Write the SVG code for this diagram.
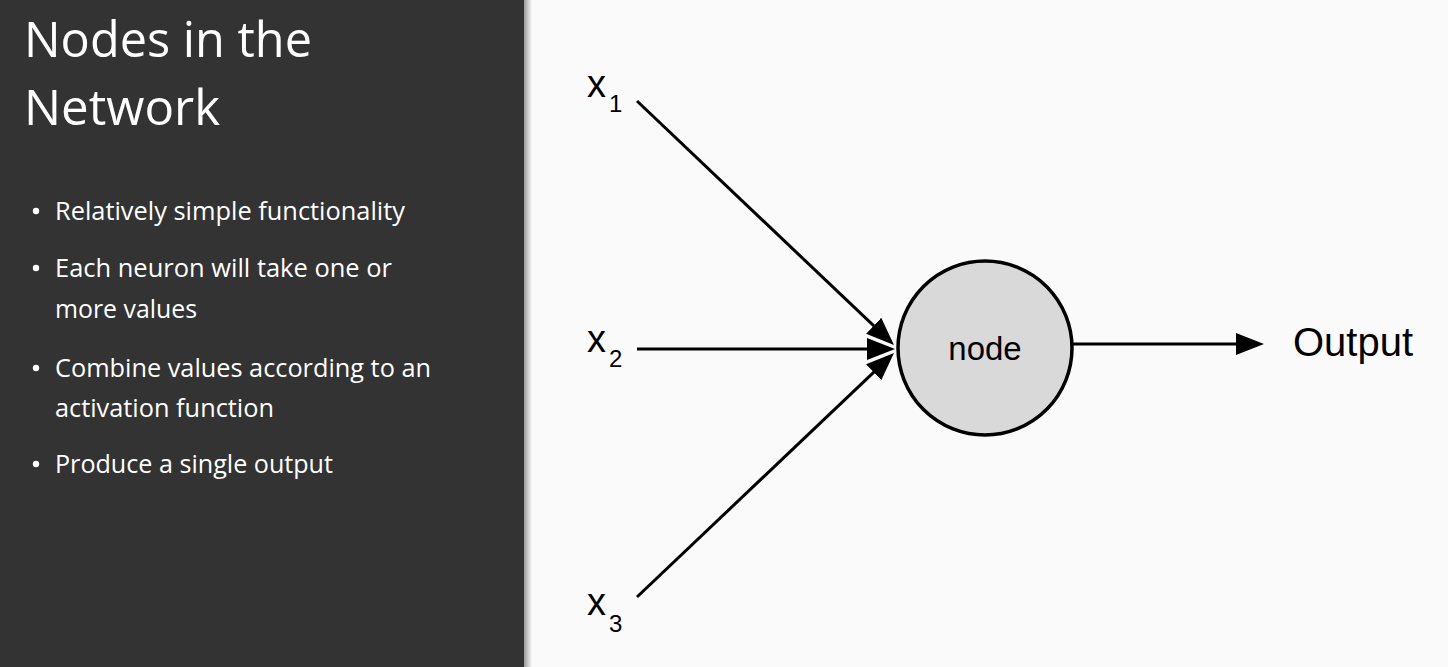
<svg xmlns="http://www.w3.org/2000/svg" width="1448" height="667" viewBox="0 0 1448 667">
  <style>
    .title { font-family: "Open Sans", "Lato", sans-serif; font-size: 49px; fill: #ffffff; }
    .bullet { font-family: "Open Sans", "Lato", sans-serif; font-size: 25px; fill: #ffffff; }
    .dot { fill: #ffffff; }
    .lbl { font-family: "Liberation Sans", Arial, sans-serif; fill: #000000; }
    .conn { stroke: #000000; stroke-width: 3; fill: none; marker-end: url(#arrow); }
  </style>
  <defs>
    <marker id="arrow" viewBox="0 0 28 22" markerWidth="28" markerHeight="22" markerUnits="userSpaceOnUse" refX="1" refY="11" orient="auto">
      <path d="M0,0 L28,11 L0,22 Z" fill="#000000"/>
    </marker>
    <linearGradient id="shadow" x1="0" y1="0" x2="1" y2="0">
      <stop offset="0" stop-color="#9a9a9a"/>
      <stop offset="1" stop-color="#fafafa"/>
    </linearGradient>
  </defs>

  <!-- backgrounds -->
  <rect x="0" y="0" width="1448" height="667" fill="#fafafa"/>
  <rect x="0" y="0" width="524" height="667" fill="#333333"/>
  <rect x="524" y="0" width="8" height="667" fill="url(#shadow)"/>

  <!-- left text panel -->
  <g id="title">
    <text class="title" x="24" y="57" textLength="288" lengthAdjust="spacingAndGlyphs">Nodes in the</text>
    <text class="title" x="24" y="125" textLength="196" lengthAdjust="spacingAndGlyphs">Network</text>
  </g>
  <g id="bullets">
    <circle class="dot" cx="36" cy="211" r="3.2"/>
    <text class="bullet" x="55" y="220" textLength="350" lengthAdjust="spacingAndGlyphs">Relatively simple functionality</text>
    <circle class="dot" cx="36" cy="268" r="3.2"/>
    <text class="bullet" x="55" y="277" textLength="337" lengthAdjust="spacingAndGlyphs">Each neuron will take one or</text>
    <text class="bullet" x="55" y="318" textLength="142" lengthAdjust="spacingAndGlyphs">more values</text>
    <circle class="dot" cx="36" cy="368" r="3.2"/>
    <text class="bullet" x="55" y="377" textLength="376" lengthAdjust="spacingAndGlyphs">Combine values according to an</text>
    <text class="bullet" x="55" y="417" textLength="219" lengthAdjust="spacingAndGlyphs">activation function</text>
    <circle class="dot" cx="36" cy="464" r="3.2"/>
    <text class="bullet" x="55" y="473" textLength="278" lengthAdjust="spacingAndGlyphs">Produce a single output</text>
  </g>

  <!-- connectors -->
  <g id="connectors">
    <line class="conn" x1="637" y1="101" x2="874.4" y2="326.4"/>
    <line class="conn" x1="637" y1="349" x2="868" y2="349"/>
    <line class="conn" x1="637" y1="597" x2="874.4" y2="371.6"/>
    <line class="conn" x1="1073" y1="344" x2="1237" y2="344"/>
  </g>

  <!-- nodes -->
  <g id="input-x1">
    <text class="lbl" x="587" y="97" font-size="38">x</text>
    <text class="lbl" x="609" y="112" font-size="24">1</text>
  </g>
  <g id="input-x2">
    <text class="lbl" x="587" y="352" font-size="38">x</text>
    <text class="lbl" x="609" y="367" font-size="24">2</text>
  </g>
  <g id="input-x3">
    <text class="lbl" x="587" y="615" font-size="38">x</text>
    <text class="lbl" x="609" y="632" font-size="24">3</text>
  </g>
  <g id="node">
    <circle cx="985" cy="348" r="87" fill="#d9d9d9" stroke="#000000" stroke-width="3.5"/>
    <text class="lbl" x="985" y="360" font-size="33" text-anchor="middle">node</text>
  </g>
  <g id="output">
    <text class="lbl" x="1293" y="356" font-size="41" textLength="120" lengthAdjust="spacingAndGlyphs">Output</text>
  </g>
</svg>
